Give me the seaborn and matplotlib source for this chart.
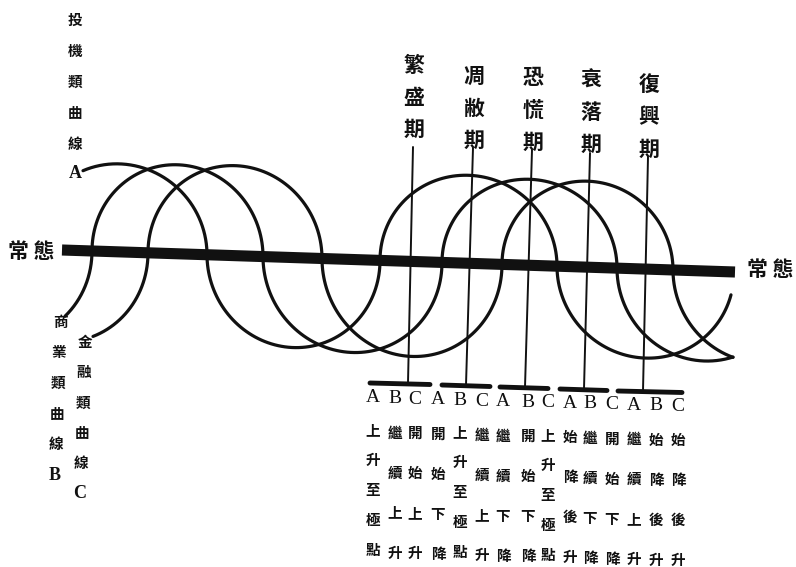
import numpy as np
import pandas as pd
import matplotlib
matplotlib.use('Agg')
import matplotlib.pyplot as plt
import seaborn as sns

# ---- data (pixel units of the 796x567 scan) ----
# thick "normal" line 常態
base_x = [62, 735]
base_y = [250, 272]

# points where each curve crosses the normal line, sign of each arc (+1 above, -1 below)
# and the height of each arc; start / end x of the drawn curve
curve_names = ['A', 'B', 'C']
cross_A = [32, 207, 380, 557, 734]
cross_B = [-85, 92, 263, 442, 617, 792]
cross_C = [-27, 148, 322, 502, 673, 848]
sign_A = [1, -1, 1, -1]
sign_B = [-1, 1, -1, 1, -1]
sign_C = [-1, 1, -1, 1, -1]
height_A = [88, 90, 88, 89]
height_B = [92, 89, 93, 86, 90]
height_C = [92, 90, 95, 86, 90]
start_x = {'A': 83, 'B': 65, 'C': 93}
end_x = {'A': 731, 'B': 733, 'C': 733}

# phase lines
phase_names = ['繁盛期', '凋敝期', '恐慌期', '衰落期', '復興期']
phase_top_x = [413, 473, 532, 590, 648]
phase_top_y = [147, 148, 150, 153, 157]
phase_bot_x = [408, 466, 525, 584, 643]
phase_bot_y = [383, 385, 387, 389, 391]
phase_label_y = [65, 76, 78, 80, 85]
bar_left = [370, 442, 500, 560, 618]
bar_right = [430, 490, 548, 607, 682]

# table under the bars
col_letters = ['A', 'B', 'C'] * 5
col_x = [373, 395, 415, 438, 460, 482, 503, 528, 548, 570, 590, 612, 634, 656, 678]
col_text = ['上升至極點', '繼續上升', '開始上升',
            '開始下降', '上升至極點', '繼續上升',
            '繼續下降', '開始下降', '上升至極點',
            '始降後升', '繼續下降', '開始下降',
            '繼續上升', '始降後升', '始降後升']

# curve labels on the left
label_A = '投機類曲線'
label_B = '商業類曲線'
label_C = '金融類曲線'


def baseline(x):
    slope = (base_y[1] - base_y[0]) / (base_x[1] - base_x[0])
    return base_y[0] + (np.asarray(x, dtype=float) - base_x[0]) * slope


def build_curve(cross, signs, heights, x_start, x_end):
    # chain of half ellipses sitting on the normal line
    xs, ys = [], []
    for i in range(len(signs)):
        x0, x1 = cross[i], cross[i + 1]
        c = (x0 + x1) / 2
        hw = (x1 - x0) / 2
        lo, hi = max(x0, x_start), min(x1, x_end)
        if lo >= hi:
            continue
        t0 = np.arccos(np.clip((lo - c) / hw, -1, 1))
        t1 = np.arccos(np.clip((hi - c) / hw, -1, 1))
        t = np.linspace(t0, t1, 80)
        x = c + hw * np.cos(t)
        y = baseline(x) - signs[i] * heights[i] * np.sin(t)
        xs.extend(x)
        ys.extend(y)
    return pd.DataFrame({'x': xs, 'y': ys})


sns.set_theme(style='white')
plt.rcParams['font.family'] = ['Noto Sans CJK TC', 'DejaVu Sans']

fig = plt.figure(figsize=(7.96, 5.67), dpi=100)
ax = fig.add_axes([0, 0, 1, 1])
ax.set_xlim(0, 796)
ax.set_ylim(567, 0)
ax.axis('off')

ink = '#111111'

# normal line
ax.plot(base_x, base_y, color=ink, lw=8, solid_capstyle='butt', zorder=3)

# the three curves
curves = {
    'A': build_curve(cross_A, sign_A, height_A, start_x['A'], end_x['A']),
    'B': build_curve(cross_B, sign_B, height_B, start_x['B'], end_x['B']),
    'C': build_curve(cross_C, sign_C, height_C, start_x['C'], end_x['C']),
}
for name in curve_names:
    sns.lineplot(data=curves[name], x='x', y='y', sort=False, estimator=None,
                 color=ink, lw=2.3, ax=ax, zorder=4)

# phase lines, bars and labels
for i, name in enumerate(phase_names):
    ax.plot([phase_top_x[i], phase_bot_x[i]], [phase_top_y[i], phase_bot_y[i]],
            color=ink, lw=1.4, zorder=2)
    ax.plot([bar_left[i], bar_right[i]], [phase_bot_y[i], phase_bot_y[i] + 1.5],
            color=ink, lw=3.5, solid_capstyle='round', zorder=2)
    for k, ch in enumerate(name):
        ax.text(phase_top_x[i] + 1, phase_label_y[i] + k * 32, ch, fontsize=15,
                ha='center', va='center', fontweight='bold', color=ink)

# table
for j in range(len(col_x)):
    drift = j * 0.6
    ax.text(col_x[j], 398 + drift, col_letters[j], fontsize=14, ha='center', va='center',
            family='Liberation Serif', color=ink)
    txt = col_text[j]
    if len(txt) == 5:
        ys = np.linspace(430, 550, 5) + drift
    else:
        ys = np.linspace(432, 552, 4) + drift
    for ch, yy in zip(txt, ys):
        ax.text(col_x[j], yy, ch, fontsize=10.5, ha='center', va='center',
                fontweight='bold', color=ink)

# left labels
for k, ch in enumerate(label_A):
    ax.text(75, 20 + k * 31, ch, fontsize=10.5, ha='center', va='center',
            fontweight='bold', color=ink)
ax.text(75, 174, 'A', fontsize=13, ha='center', va='center',
        family='Liberation Serif', fontweight='bold', color=ink)
for k, ch in enumerate(label_B):
    ax.text(60 - k, 322 + k * 30.5, ch, fontsize=10.5, ha='center', va='center',
            fontweight='bold', color=ink)
ax.text(55, 476, 'B', fontsize=13, ha='center', va='center',
        family='Liberation Serif', fontweight='bold', color=ink)
for k, ch in enumerate(label_C):
    ax.text(85 - k, 342 + k * 30.2, ch, fontsize=10.5, ha='center', va='center',
            fontweight='bold', color=ink)
ax.text(80, 494, 'C', fontsize=13, ha='center', va='center',
        family='Liberation Serif', fontweight='bold', color=ink)

# 常態 at both ends of the normal line
ax.text(31, 252, '常 態', fontsize=15, ha='center', va='center', fontweight='bold', color=ink)
ax.text(770, 270, '常 態', fontsize=15, ha='center', va='center', fontweight='bold', color=ink)

fig.savefig('out.png', dpi=100)
